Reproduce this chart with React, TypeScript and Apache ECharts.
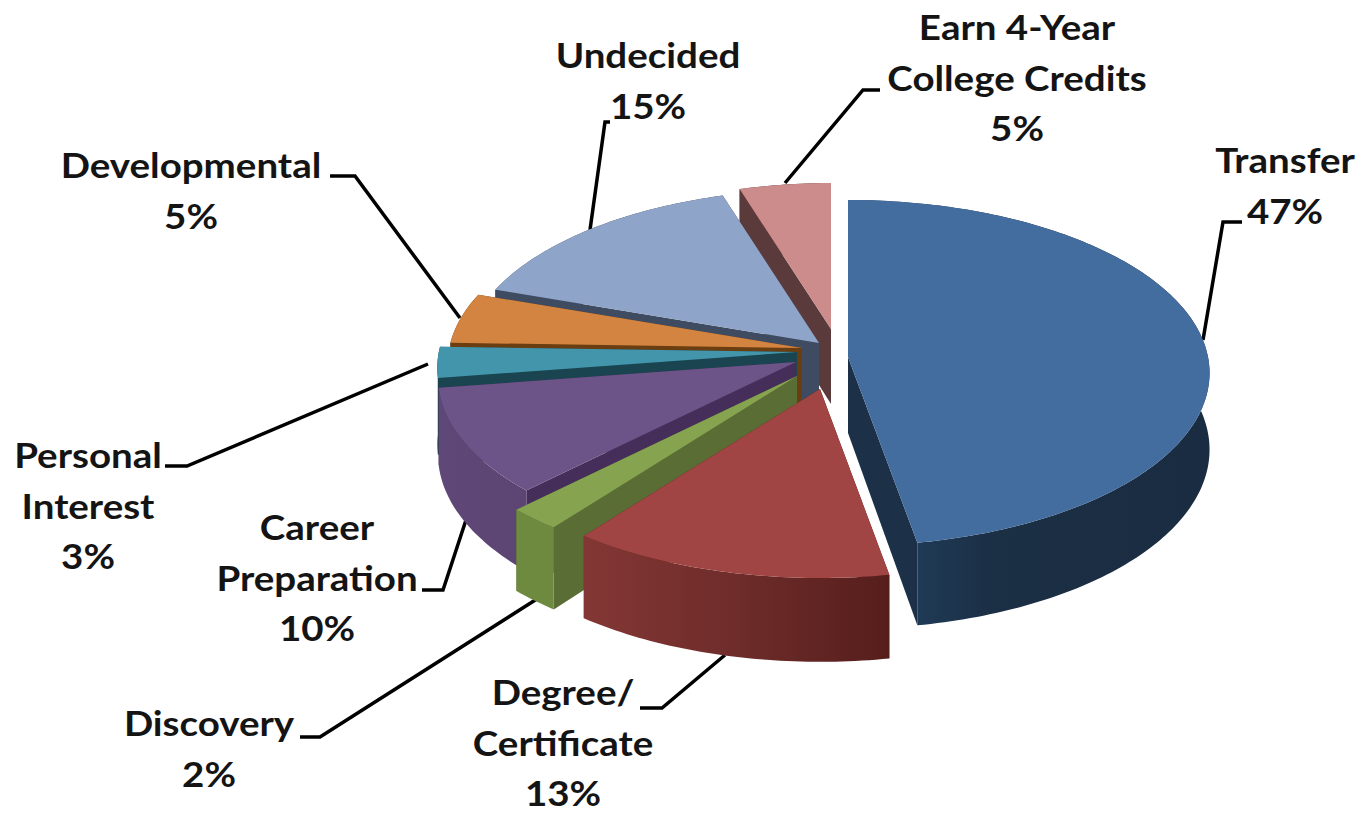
import React, { useEffect, useRef } from "react";
import * as echarts from "echarts";

const categories = ["Transfer", "Degree/\nCertificate", "Discovery", "Career\nPreparation", "Personal\nInterest", "Developmental", "Undecided", "Earn 4-Year\nCollege Credits"];
// Shares; the printed labels are these rounded
const shares = [47.2, 13.2, 2.1, 10.1, 2.9, 4.8, 14.9, 4.8];

// Styling and layout per slice, not data
const topColors = ["#436d9f", "#a04543", "#86a34f", "#6c5488", "#4295ab", "#d38441", "#8fa4c9", "#cb8c8b"];
const radialWallColors = ["#1c3048", "#561e1b", "#5a6d35", "#452f5a", "#1a4450", "#6b3e12", "#3e4b60", "#5a3a3a"];
const outerWallStops: [number, string][][] = [
  [[0.19, "#1f3a56"], [0.4, "#1b2f45"], [1, "#1a2c41"]],
  [[0, "#833735"], [0.5, "#6e2c2a"], [1, "#561e1b"]],
  [[0, "#6e8a3e"], [1, "#6e8a3e"]],
  [[0, "#5f4877"], [1, "#5c4572"]],
  [[0, "#1a4450"], [1, "#1a4450"]],
  [[0, "#6b3e12"], [1, "#6b3e12"]],
  [[0, "#3e4b60"], [1, "#3e4b60"]],
  [[0, "#5a3a3a"], [1, "#5a3a3a"]],
];
const apexes = [[848, 357], [820, 389], [797, 376], [796, 362], [797, 352], [802, 348], [819, 343], [831, 329]];
const radiusScale = [1, 1, 1.03, 0.99, 0.995, 0.98, 0.98, 0.93];
const drawOrder = [5, 7, 6, 4, 3, 2, 1, 0]; // paint position of each slice
const labelCenters = [[1285, 160], [563, 692], [209, 723], [317, 527], [88, 455], [191, 165], [648, 55], [1017, 27]];
const leaders = [
  [[1203, 340], [1223, 222], [1242, 222]],
  [[725, 655], [662, 708], [640, 708]],
  [[540, 597], [320, 737], [300, 737]],
  [[466, 520], [443, 590], [422, 590]],
  [[428, 364], [187, 466], [165, 466]],
  [[460, 318], [355, 176], [330, 176]],
  [[590, 230], [605, 122], [610, 122]],
  [[785, 183], [863, 90], [880, 90]],
];

const RX = 360;
const KY = 171.5;
const PERSP = 0.0925;
const LINE_H = 50.5;
const FONT = '700 35px Lato, "Open Sans", sans-serif';

const total = shares.reduce((a, b) => a + b, 0);
function project(i: number, deg: number) {
  const t = (deg * Math.PI) / 180;
  const s = radiusScale[i];
  const w = 1 + PERSP * Math.cos(t);
  return [apexes[i][0] + (s * RX * Math.sin(t)) / w, apexes[i][1] - (s * KY * Math.cos(t)) / w];
}
const down = (p: number[]) => [p[0], p[1] + 76 + (p[1] - 355) * 0.035];

function renderSlice(params: any, api: any) {
  const i = params.dataIndex;
  const before = shares.slice(0, i).reduce((a, b) => a + b, 0);
  const a0 = (before / total) * 360;
  const a1 = a0 + (api.value(1) / total) * 360;
  const n = Math.max(6, Math.ceil(a1 - a0));
  const arc: number[][] = [];
  for (let k = 0; k <= n; k++) arc.push(project(i, a0 + ((a1 - a0) * k) / n));
  const apex = apexes[i];
  const base = drawOrder[i] * 10;
  const wall = (p: number[], z: number) => ({
    type: "polygon",
    z2: base + z,
    shape: { points: [apex, p, down(p), down(apex)] },
    style: { fill: radialWallColors[i] },
  });
  const outer = arc.concat(arc.map(down).reverse());
  return {
    type: "group",
    children: [
      wall(arc[0], 1),
      wall(arc[n], 2),
      {
        type: "polygon",
        z2: base + 3,
        shape: { points: outer },
        style: {
          fill: new echarts.graphic.LinearGradient(
            0, 0, 1, 0,
            outerWallStops[i].map(([offset, color]) => ({ offset, color })),
          ),
        },
      },
      {
        type: "polygon",
        z2: base + 4,
        shape: { points: [apex, ...arc] },
        style: { fill: topColors[i] },
      },
    ],
  };
}

export default function App() {
  const ref = useRef<HTMLDivElement>(null);
  useEffect(() => {
    const chart = echarts.init(ref.current!, null, { renderer: "svg" });
    const labels = categories.flatMap((c, i) =>
      [...c.split("\n"), `${Math.round(shares[i])}%`].map((line, k) => ({
        type: "text",
        z: 10,
        x: labelCenters[i][0],
        y: labelCenters[i][1] + k * LINE_H,
        scaleX: 1.1,
        style: {
          text: line,
          font: FONT,
          fill: "#141414",
          textAlign: "center",
          textVerticalAlign: "middle",
          lineHeight: 34,
        },
      })),
    );
    const lines = leaders.map((pts) => ({
      type: "polyline",
      z: 1,
      shape: { points: pts },
      style: { stroke: "#000", lineWidth: 3.5, fill: "none" },
    }));
    chart.setOption({
      animation: false,
      backgroundColor: "#fff",
      series: [
        {
          type: "custom",
          coordinateSystem: "none",
          silent: true,
          z: 2,
          renderItem: renderSlice,
          data: shares.map((v, i) => [i, v]),
        },
      ],
      graphic: [...lines, ...labels],
    });
    return () => chart.dispose();
  }, []);
  return <div ref={ref} style={{ position: "fixed", left: 0, top: 0, width: 1363, height: 814 }} />;
}
